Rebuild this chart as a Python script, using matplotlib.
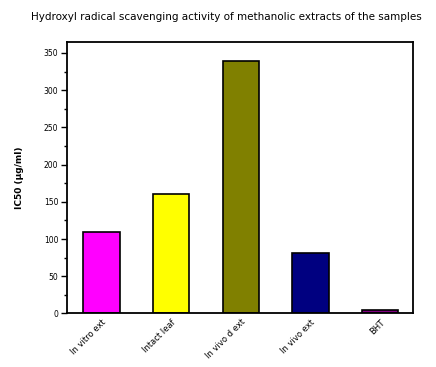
import numpy as np
import matplotlib
matplotlib.use('Agg')
import matplotlib.pyplot as plt
from matplotlib.ticker import MultipleLocator

# samples and IC50 values (ug/ml)
samples = ['In vitro ext', 'Intact leaf', 'In vivo d ext', 'In vivo ext', 'BHT']
ic50 = [110, 161, 339, 81, 5]
colors = ['#ff00ff', '#ffff00', '#808000', '#000080', '#800080']

fig = plt.figure(figsize=(4.36, 3.67), dpi=100)
ax = fig.add_axes([0.153, 0.146, 0.794, 0.74])

x = np.arange(1, len(samples) + 1)
ax.bar(x, ic50, width=0.52, color=colors, edgecolor='black', linewidth=1.2)

ax.set_xlim(0.5, 5.47)
ax.set_ylim(0, 365)
ax.yaxis.set_major_locator(MultipleLocator(50))
ax.yaxis.set_minor_locator(MultipleLocator(25))
ax.tick_params(axis='y', which='major', direction='out', length=4, width=1, labelsize=5.5, pad=2)
ax.tick_params(axis='y', which='minor', direction='out', length=2.5, width=1)
ax.tick_params(axis='x', length=0, labelsize=6, pad=3)
ax.set_xticks(x)
ax.set_xticklabels(samples, rotation=45, ha='right', rotation_mode='anchor')
for s in ax.spines.values():
    s.set_linewidth(1.3)

ax.set_ylabel('IC50 (\u00b5g/ml)', fontsize=6.5, fontweight='bold', labelpad=14)
fig.text(0.52, 0.955, 'Hydroxyl radical scavenging activity of methanolic extracts of the samples',
         ha='center', va='center', fontsize=7.5)

fig.savefig('out.png', dpi=100)
